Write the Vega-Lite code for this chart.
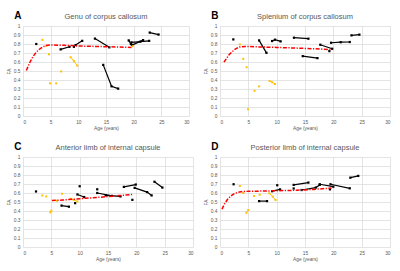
{
  "$schema": "https://vega.github.io/schema/vega-lite/v6.json",
  "background": "white",
  "padding": {"left": 6, "top": 10, "right": 2, "bottom": 2},
  "config": {
    "font": "Liberation Sans",
    "view": {"stroke": null},
    "axis": {"labelFontSize": 4.8, "labelColor": "#595959", "titleFontSize": 4.8, "titleColor": "#595959", "titleFontWeight": "normal", "gridColor": "#d9d9d9", "gridWidth": 0.7, "domain": false, "ticks": false, "labelPadding": 3, "titlePadding": 2},
    "title": {"fontSize": 7.5, "fontWeight": "normal", "color": "#595959", "anchor": "middle", "offset": 3},
    "line": {"strokeCap": "butt"}
  },
  "datasets": {
    "A": [
      {"k":"fit","g":"f","age":0.6,"fa":0.505},{"k":"fit","g":"f","age":1.2,"fa":0.59},{"k":"fit","g":"f","age":1.8,"fa":0.66},{"k":"fit","g":"f","age":2.4,"fa":0.71},{"k":"fit","g":"f","age":3.0,"fa":0.744},{"k":"fit","g":"f","age":3.6,"fa":0.768},{"k":"fit","g":"f","age":4.2,"fa":0.783},{"k":"fit","g":"f","age":5.0,"fa":0.79},{"k":"fit","g":"f","age":7.5,"fa":0.785},{"k":"fit","g":"f","age":10,"fa":0.778},{"k":"fit","g":"f","age":12.5,"fa":0.774},{"k":"fit","g":"f","age":15,"fa":0.77},{"k":"fit","g":"f","age":17.5,"fa":0.766},{"k":"fit","g":"f","age":19.6,"fa":0.762},
      {"k":"black","g":"b1","age":2.4,"fa":0.80},
      {"k":"black","g":"b2","age":6.8,"fa":0.74},{"k":"black","g":"b2","age":8.4,"fa":0.769},
      {"k":"black","g":"b3","age":9.2,"fa":0.769},
      {"k":"black","g":"b4","age":9.5,"fa":0.788},{"k":"black","g":"b4","age":10.7,"fa":0.835},
      {"k":"black","g":"b5","age":13.0,"fa":0.86},{"k":"black","g":"b5","age":15.6,"fa":0.763},
      {"k":"black","g":"b6","age":14.5,"fa":0.568},{"k":"black","g":"b6","age":16.0,"fa":0.33},{"k":"black","g":"b6","age":17.2,"fa":0.304},
      {"k":"black","g":"b7","age":19.1,"fa":0.84},{"k":"black","g":"b7","age":19.5,"fa":0.80},
      {"k":"black","g":"b8","age":19.6,"fa":0.818},{"k":"black","g":"b8","age":21.2,"fa":0.826},{"k":"black","g":"b8","age":22.8,"fa":0.835},
      {"k":"black","g":"b9","age":19.7,"fa":0.788},{"k":"black","g":"b9","age":21.7,"fa":0.843},
      {"k":"black","g":"b10","age":22.9,"fa":0.927},{"k":"black","g":"b10","age":24.5,"fa":0.905},
      {"k":"yellow","g":"y1","age":3.5,"fa":0.846},
      {"k":"yellow","g":"y2","age":4.2,"fa":0.78},
      {"k":"yellow","g":"y3","age":4.7,"fa":0.686},
      {"k":"yellow","g":"y4","age":4.9,"fa":0.363},
      {"k":"yellow","g":"y5","age":6.0,"fa":0.363},
      {"k":"yellow","g":"y6","age":6.9,"fa":0.495},
      {"k":"yellow","g":"y7","age":8.6,"fa":0.653},{"k":"yellow","g":"y7","age":9.2,"fa":0.61},{"k":"yellow","g":"y7","age":9.8,"fa":0.56},
      {"k":"yellow","g":"y8","age":19.8,"fa":0.775}
    ],
    "B": [
      {"k":"fit","g":"f","age":0.7,"fa":0.598},{"k":"fit","g":"f","age":1.6,"fa":0.68},{"k":"fit","g":"f","age":2.5,"fa":0.735},{"k":"fit","g":"f","age":3.35,"fa":0.766},{"k":"fit","g":"f","age":4.5,"fa":0.773},{"k":"fit","g":"f","age":7.5,"fa":0.766},{"k":"fit","g":"f","age":10,"fa":0.762},{"k":"fit","g":"f","age":13.3,"fa":0.755},{"k":"fit","g":"f","age":16.5,"fa":0.747},{"k":"fit","g":"f","age":19.5,"fa":0.739},
      {"k":"black","g":"b1","age":2.35,"fa":0.851},
      {"k":"black","g":"b2","age":6.9,"fa":0.84},{"k":"black","g":"b2","age":8.2,"fa":0.702},
      {"k":"black","g":"b3","age":9.2,"fa":0.833},{"k":"black","g":"b3","age":9.7,"fa":0.848},{"k":"black","g":"b3","age":10.7,"fa":0.829},
      {"k":"black","g":"b4","age":13.05,"fa":0.87},{"k":"black","g":"b4","age":15.6,"fa":0.859},
      {"k":"black","g":"b5","age":14.6,"fa":0.665},{"k":"black","g":"b5","age":17.2,"fa":0.643},
      {"k":"black","g":"b6","age":17.7,"fa":0.792},{"k":"black","g":"b6","age":19.8,"fa":0.747},
      {"k":"black","g":"b7","age":19.3,"fa":0.721},
      {"k":"black","g":"b8","age":19.6,"fa":0.814},{"k":"black","g":"b8","age":21.3,"fa":0.82},{"k":"black","g":"b8","age":22.9,"fa":0.822},
      {"k":"black","g":"b9","age":23.2,"fa":0.896},{"k":"black","g":"b9","age":24.6,"fa":0.904},
      {"k":"yellow","g":"y1","age":3.5,"fa":0.795},
      {"k":"yellow","g":"y2","age":4.1,"fa":0.635},
      {"k":"yellow","g":"y3","age":4.7,"fa":0.542},
      {"k":"yellow","g":"y4","age":4.94,"fa":0.075},
      {"k":"yellow","g":"y5","age":6.1,"fa":0.28},
      {"k":"yellow","g":"y6","age":6.9,"fa":0.329},
      {"k":"yellow","g":"y7","age":8.75,"fa":0.389},{"k":"yellow","g":"y7","age":9.2,"fa":0.375},{"k":"yellow","g":"y7","age":9.7,"fa":0.355}
    ],
    "C": [
      {"k":"fit","g":"f","age":5.1,"fa":0.516},{"k":"fit","g":"f","age":7,"fa":0.522},{"k":"fit","g":"f","age":9,"fa":0.531},{"k":"fit","g":"f","age":11,"fa":0.541},{"k":"fit","g":"f","age":13,"fa":0.55},{"k":"fit","g":"f","age":15,"fa":0.56},{"k":"fit","g":"f","age":17,"fa":0.571},{"k":"fit","g":"f","age":19.3,"fa":0.584},
      {"k":"black","g":"b1","age":2.3,"fa":0.617},
      {"k":"black","g":"b2","age":6.8,"fa":0.46},{"k":"black","g":"b2","age":8.1,"fa":0.448},
      {"k":"black","g":"b3","age":9.2,"fa":0.487},
      {"k":"black","g":"b4","age":10.0,"fa":0.675},
      {"k":"black","g":"b5","age":9.6,"fa":0.584},{"k":"black","g":"b5","age":10.8,"fa":0.555},
      {"k":"black","g":"b6","age":13.1,"fa":0.641},
      {"k":"black","g":"b7","age":13.1,"fa":0.60},{"k":"black","g":"b7","age":15.7,"fa":0.568},
      {"k":"black","g":"b8","age":14.6,"fa":0.573},{"k":"black","g":"b8","age":17.2,"fa":0.562},
      {"k":"black","g":"b9","age":19.3,"fa":0.524},
      {"k":"black","g":"b10","age":17.8,"fa":0.668},{"k":"black","g":"b10","age":19.9,"fa":0.694},
      {"k":"black","g":"b11","age":19.7,"fa":0.657},{"k":"black","g":"b11","age":21.9,"fa":0.61},{"k":"black","g":"b11","age":22.7,"fa":0.573},
      {"k":"black","g":"b12","age":23.2,"fa":0.725},{"k":"black","g":"b12","age":24.6,"fa":0.66},
      {"k":"yellow","g":"y1","age":3.4,"fa":0.573},
      {"k":"yellow","g":"y2","age":4.1,"fa":0.562},
      {"k":"yellow","g":"y3","age":4.8,"fa":0.385},{"k":"yellow","g":"y3","age":5.0,"fa":0.403},
      {"k":"yellow","g":"y4","age":6.0,"fa":0.515},
      {"k":"yellow","g":"y5","age":6.9,"fa":0.592},
      {"k":"yellow","g":"y6","age":8.4,"fa":0.536},{"k":"yellow","g":"y6","age":8.9,"fa":0.525},{"k":"yellow","g":"y6","age":9.6,"fa":0.506}
    ],
    "D": [
      {"k":"fit","g":"f","age":0.35,"fa":0.419},{"k":"fit","g":"f","age":0.8,"fa":0.48},{"k":"fit","g":"f","age":1.34,"fa":0.53},{"k":"fit","g":"f","age":1.9,"fa":0.565},{"k":"fit","g":"f","age":2.5,"fa":0.593},{"k":"fit","g":"f","age":3.2,"fa":0.607},{"k":"fit","g":"f","age":3.96,"fa":0.616},{"k":"fit","g":"f","age":5,"fa":0.619},{"k":"fit","g":"f","age":6.3,"fa":0.62},{"k":"fit","g":"f","age":10,"fa":0.625},{"k":"fit","g":"f","age":13.3,"fa":0.63},{"k":"fit","g":"f","age":16.5,"fa":0.64},{"k":"fit","g":"f","age":19.7,"fa":0.655},
      {"k":"black","g":"b1","age":2.4,"fa":0.697},
      {"k":"black","g":"b2","age":6.9,"fa":0.51},{"k":"black","g":"b2","age":8.3,"fa":0.51},
      {"k":"black","g":"b3","age":10.1,"fa":0.686},
      {"k":"black","g":"b4","age":9.2,"fa":0.62},{"k":"black","g":"b4","age":10.6,"fa":0.64},
      {"k":"black","g":"b5","age":13.0,"fa":0.69},{"k":"black","g":"b5","age":15.6,"fa":0.716},
      {"k":"black","g":"b6","age":13.0,"fa":0.65},
      {"k":"black","g":"b7","age":14.4,"fa":0.633},{"k":"black","g":"b7","age":16.9,"fa":0.66},{"k":"black","g":"b7","age":17.6,"fa":0.69},
      {"k":"black","g":"b8","age":17.6,"fa":0.697},{"k":"black","g":"b8","age":20.0,"fa":0.67},
      {"k":"black","g":"b9","age":19.5,"fa":0.697},{"k":"black","g":"b9","age":22.9,"fa":0.652},
      {"k":"black","g":"b10","age":19.4,"fa":0.641},
      {"k":"black","g":"b11","age":23.0,"fa":0.77},{"k":"black","g":"b11","age":24.4,"fa":0.79},
      {"k":"yellow","g":"y1","age":3.5,"fa":0.678},
      {"k":"yellow","g":"y2","age":4.1,"fa":0.60},
      {"k":"yellow","g":"y3","age":4.66,"fa":0.38},{"k":"yellow","g":"y3","age":5.0,"fa":0.41},
      {"k":"yellow","g":"y4","age":6.0,"fa":0.567},
      {"k":"yellow","g":"y5","age":7.0,"fa":0.58},
      {"k":"yellow","g":"y6","age":8.7,"fa":0.597},{"k":"yellow","g":"y6","age":9.3,"fa":0.56},{"k":"yellow","g":"y6","age":9.8,"fa":0.522}
    ]
  },
  "columns": 2,
  "spacing": {"row": 10, "column": 10},
  "concat": [
    {
      "title": {"text": "A", "anchor": "start", "frame": "bounds", "fontSize": 10, "fontWeight": "bold", "color": "#000000", "offset": -8, "dx": 8},
      "vconcat": [{
        "title": "Genu of corpus callosum",
        "width": 166, "height": 90,
        "data": {"name": "A"},
        "encoding": {
          "x": {"field": "age", "type": "quantitative", "scale": {"domain": [0, 30], "nice": false}, "axis": {"values": [0,5,10,15,20,25,30], "title": "Age (years)"}},
          "y": {"field": "fa", "type": "quantitative", "scale": {"domain": [0, 1], "nice": false}, "axis": {"values": [0,0.1,0.2,0.3,0.4,0.5,0.6,0.7,0.8,0.9,1], "format": ".1~f", "title": "FA"}}
        },
        "layer": [
          {"transform": [{"filter": "datum.k == 'black'"}], "mark": {"type": "line", "color": "#000000", "strokeWidth": 1.2, "point": {"shape": "square", "size": 5, "filled": true, "color": "#000000"}}, "encoding": {"detail": {"field": "g"}}},
          {"transform": [{"filter": "datum.k == 'yellow'"}], "mark": {"type": "line", "color": "#FFC000", "strokeWidth": 1, "point": {"shape": "square", "size": 4, "filled": true, "color": "#FFC000"}}, "encoding": {"detail": {"field": "g"}}},
          {"transform": [{"filter": "datum.k == 'fit'"}], "mark": {"type": "line", "color": "#FF0000", "strokeWidth": 1.5, "strokeDash": [4, 1.5, 1.2, 1.5]}, "encoding": {}}
        ]
      }]
    },
    {
      "title": {"text": "B", "anchor": "start", "frame": "bounds", "fontSize": 10, "fontWeight": "bold", "color": "#000000", "offset": -8, "dx": 8},
      "vconcat": [{
        "title": "Splenium of corpus callosum",
        "width": 170, "height": 90,
        "data": {"name": "B"},
        "encoding": {
          "x": {"field": "age", "type": "quantitative", "scale": {"domain": [0, 30], "nice": false}, "axis": {"values": [0,5,10,15,20,25,30], "title": "Age (years)"}},
          "y": {"field": "fa", "type": "quantitative", "scale": {"domain": [0, 1], "nice": false}, "axis": {"values": [0,0.1,0.2,0.3,0.4,0.5,0.6,0.7,0.8,0.9,1], "format": ".1~f", "title": "FA"}}
        },
        "layer": [
          {"transform": [{"filter": "datum.k == 'black'"}], "mark": {"type": "line", "color": "#000000", "strokeWidth": 1.2, "point": {"shape": "square", "size": 5, "filled": true, "color": "#000000"}}, "encoding": {"detail": {"field": "g"}}},
          {"transform": [{"filter": "datum.k == 'yellow'"}], "mark": {"type": "line", "color": "#FFC000", "strokeWidth": 1, "point": {"shape": "square", "size": 4, "filled": true, "color": "#FFC000"}}, "encoding": {"detail": {"field": "g"}}},
          {"transform": [{"filter": "datum.k == 'fit'"}], "mark": {"type": "line", "color": "#FF0000", "strokeWidth": 1.5, "strokeDash": [4, 1.5, 1.2, 1.5]}, "encoding": {}}
        ]
      }]
    },
    {
      "title": {"text": "C", "anchor": "start", "frame": "bounds", "fontSize": 10, "fontWeight": "bold", "color": "#000000", "offset": -8, "dx": 8},
      "vconcat": [{
        "title": "Anterior limb of internal capsule",
        "width": 170, "height": 90,
        "data": {"name": "C"},
        "encoding": {
          "x": {"field": "age", "type": "quantitative", "scale": {"domain": [0, 30], "nice": false}, "axis": {"values": [0,5,10,15,20,25,30], "title": "Age (years)"}},
          "y": {"field": "fa", "type": "quantitative", "scale": {"domain": [0, 1], "nice": false}, "axis": {"values": [0,0.1,0.2,0.3,0.4,0.5,0.6,0.7,0.8,0.9,1], "format": ".1~f", "title": "FA"}}
        },
        "layer": [
          {"transform": [{"filter": "datum.k == 'black'"}], "mark": {"type": "line", "color": "#000000", "strokeWidth": 1.2, "point": {"shape": "square", "size": 5, "filled": true, "color": "#000000"}}, "encoding": {"detail": {"field": "g"}}},
          {"transform": [{"filter": "datum.k == 'yellow'"}], "mark": {"type": "line", "color": "#FFC000", "strokeWidth": 1, "point": {"shape": "square", "size": 4, "filled": true, "color": "#FFC000"}}, "encoding": {"detail": {"field": "g"}}},
          {"transform": [{"filter": "datum.k == 'fit'"}], "mark": {"type": "line", "color": "#FF0000", "strokeWidth": 1.5, "strokeDash": [4, 1.5, 1.2, 1.5]}, "encoding": {}}
        ]
      }]
    },
    {
      "title": {"text": "D", "anchor": "start", "frame": "bounds", "fontSize": 10, "fontWeight": "bold", "color": "#000000", "offset": -8, "dx": 8},
      "vconcat": [{
        "title": "Posterior limb of internal capsule",
        "width": 170, "height": 90,
        "data": {"name": "D"},
        "encoding": {
          "x": {"field": "age", "type": "quantitative", "scale": {"domain": [0, 30], "nice": false}, "axis": {"values": [0,5,10,15,20,25,30], "title": "Age (years)"}},
          "y": {"field": "fa", "type": "quantitative", "scale": {"domain": [0, 1], "nice": false}, "axis": {"values": [0,0.1,0.2,0.3,0.4,0.5,0.6,0.7,0.8,0.9,1], "format": ".1~f", "title": "FA"}}
        },
        "layer": [
          {"transform": [{"filter": "datum.k == 'black'"}], "mark": {"type": "line", "color": "#000000", "strokeWidth": 1.2, "point": {"shape": "square", "size": 5, "filled": true, "color": "#000000"}}, "encoding": {"detail": {"field": "g"}}},
          {"transform": [{"filter": "datum.k == 'yellow'"}], "mark": {"type": "line", "color": "#FFC000", "strokeWidth": 1, "point": {"shape": "square", "size": 4, "filled": true, "color": "#FFC000"}}, "encoding": {"detail": {"field": "g"}}},
          {"transform": [{"filter": "datum.k == 'fit'"}], "mark": {"type": "line", "color": "#FF0000", "strokeWidth": 1.5, "strokeDash": [4, 1.5, 1.2, 1.5]}, "encoding": {}}
        ]
      }]
    }
  ]
}
